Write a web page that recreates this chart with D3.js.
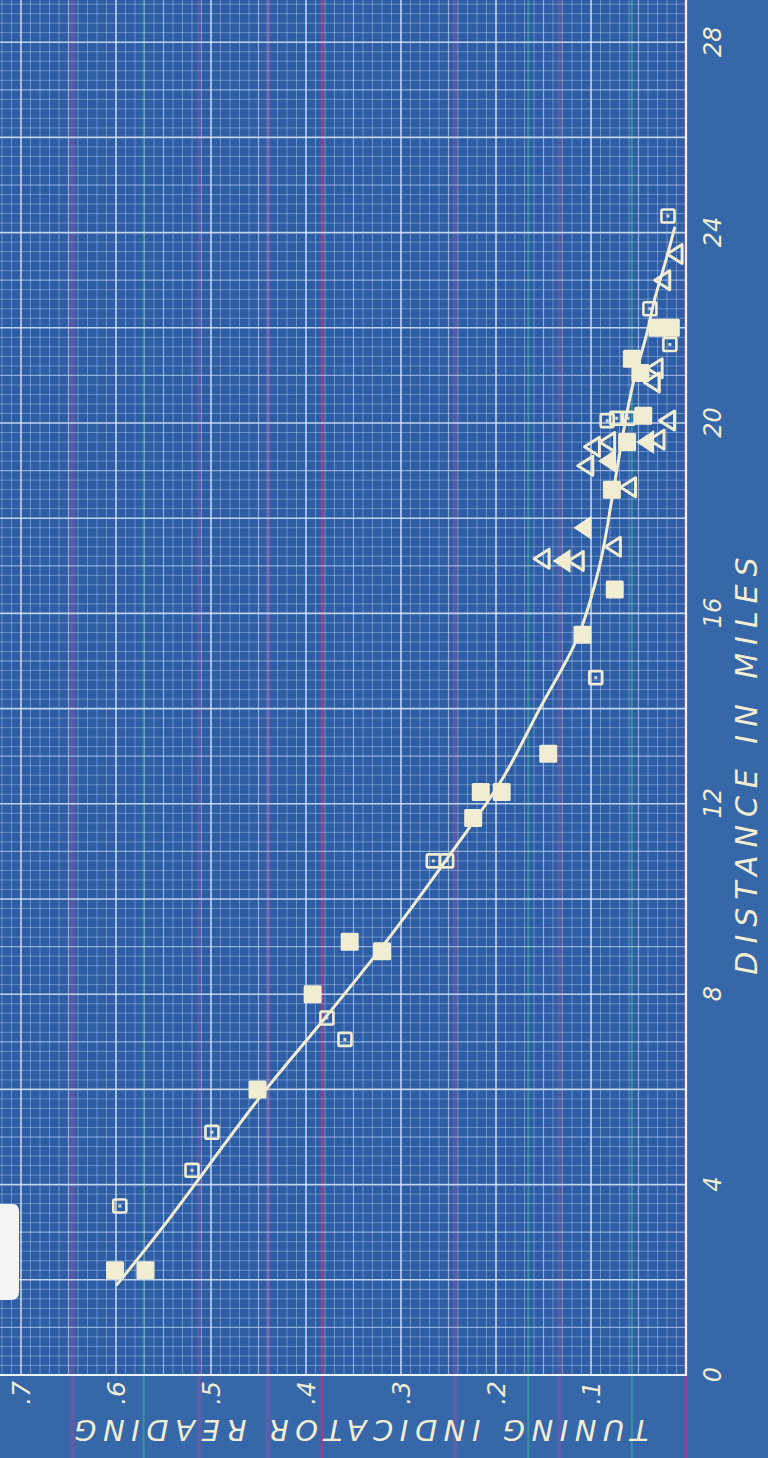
<!DOCTYPE html>
<html>
<head>
<meta charset="utf-8">
<script src="https://cdn.jsdelivr.net/npm/d3@7"></script>
<style>
  html, body { margin: 0; padding: 0; background: #3667a9; }
  svg { display: block; }
</style>
</head>
<body>
<svg id="chart" width="768" height="1458"></svg>
<script>
// distance (miles) / tuning indicator reading
const filledSqD = [2.2, 2.2, 6.0, 8.0, 9.1, 8.9, 11.7, 12.25, 12.25, 13.05, 15.55, 16.5, 18.6, 19.6, 20.15, 21.35, 21.05, 22.0, 22.0];
const filledSqR = [0.601, 0.569, 0.451, 0.393, 0.354, 0.320, 0.224, 0.216, 0.194, 0.145, 0.109, 0.075, 0.078, 0.062, 0.045, 0.057, 0.048, 0.030, 0.016];

const openSqD = [3.55, 4.3, 5.1, 7.05, 7.5, 10.8, 10.8, 14.65, 20.05, 20.1, 20.1, 22.4, 21.65, 24.35];
const openSqR = [0.596, 0.520, 0.499, 0.359, 0.378, 0.266, 0.252, 0.095, 0.083, 0.073, 0.061, 0.038, 0.017, 0.019];

const openTriD = [17.15, 17.1, 17.4, 18.65, 19.1, 19.5, 19.6, 19.65, 20.05, 21.15, 20.85, 23.0, 23.55];
const openTriR = [0.152, 0.116, 0.077, 0.061, 0.106, 0.099, 0.083, 0.031, 0.020, 0.033, 0.036, 0.025, 0.012];

const filledTriD = [17.1, 17.8, 19.6, 19.2];
const filledTriR = [0.131, 0.109, 0.043, 0.083];

const curveD = [1.9, 3.1, 5.9, 7.5, 9.2, 11.0, 12.5, 14.0, 15.5, 17.0, 18.4, 19.8, 20.8, 21.9, 22.6, 23.5, 24.1];
const curveR = [0.599, 0.551, 0.446, 0.380, 0.312, 0.246, 0.194, 0.154, 0.114, 0.091, 0.078, 0.066, 0.056, 0.041, 0.033, 0.020, 0.012];

const distTicks = [0, 4, 8, 12, 16, 20, 24, 28];
const readTicks = [0.1, 0.2, 0.3, 0.4, 0.5, 0.6, 0.7];
const readTickLabels = ['.1', '.2', '.3', '.4', '.5', '.6', '.7'];

// scanner colour streaks, as reading positions
const purpleStreaks = [0.646, 0.512, 0.44, 0.243, 0.133];
const magentaStreaks = [0.383, 0.0];
const greenStreaks = [0.571, 0.166, 0.057];

const W = 768;
const H = 1458;
const INK = '#f1edd3';
const FONT = '"DejaVu Sans", sans-serif';

const svg = d3.select('#chart');

// the sheet is drawn the usual way and turned a quarter turn
const g = svg.append('g').attr('transform', `translate(0,${H}) rotate(-90)`);

const x = d3.scaleLinear().domain([0, 28]).range([83, 83 + 28 * 47.6]);
const y = d3.scaleLinear().domain([0, 0.7]).range([686, 21]);

const dMax = 29.2;
const rMax = 0.74;

g.append('rect')
  .attr('x', x(0)).attr('y', y(rMax))
  .attr('width', x(dMax) - x(0)).attr('height', y(0) - y(rMax))
  .attr('fill', '#2d5da4');

// streaks run the full length of the sheet
const streak = (vals, color, width, op) => {
  g.append('g').selectAll('line').data(vals).join('line')
    .attr('x1', 0).attr('x2', H)
    .attr('y1', d => y(d)).attr('y2', d => y(d))
    .attr('stroke', color).attr('stroke-width', width).attr('opacity', op);
};
streak(purpleStreaks, '#7a5aa8', 5, 0.55);
streak(greenStreaks, '#3fb0a0', 2, 0.6);
streak(magentaStreaks, '#b03a8a', 3, 0.8);

// grid
const grid = g.append('g');
const gridStyle = i => (i % 10 === 0
  ? { c: '#e6f0ff', w: 1.6, o: 0.8 }
  : i % 5 === 0 ? { c: '#cfe0fa', w: 1.2, o: 0.62 } : { c: '#b4ccef', w: 1, o: 0.45 });

d3.range(0, Math.round(dMax / 0.2) + 1).forEach(i => {
  const s = gridStyle(i);
  grid.append('line')
    .attr('x1', x(i * 0.2)).attr('x2', x(i * 0.2))
    .attr('y1', y(rMax)).attr('y2', y(0))
    .attr('stroke', s.c).attr('stroke-width', s.w).attr('opacity', s.o);
});
d3.range(0, Math.round(rMax / 0.01) + 1).forEach(i => {
  const s = gridStyle(i);
  grid.append('line')
    .attr('x1', x(0)).attr('x2', x(dMax))
    .attr('y1', y(i * 0.01)).attr('y2', y(i * 0.01))
    .attr('stroke', s.c).attr('stroke-width', s.w).attr('opacity', s.o);
});
// border of the ruled area
g.append('path')
  .attr('d', `M${x(0)},${y(rMax)}V${y(0)}H${x(dMax)}`)
  .attr('fill', 'none').attr('stroke', '#eef4ff').attr('stroke-width', 2.2);

// fitted curve
const line = d3.line()
  .x(d => x(d[0])).y(d => y(d[1]))
  .curve(d3.curveCatmullRom.alpha(0.5));
g.append('path')
  .datum(curveD.map((d, i) => [d, curveR[i]]))
  .attr('d', line)
  .attr('fill', 'none').attr('stroke', INK).attr('stroke-width', 3)
  .attr('stroke-linecap', 'round');

// markers
const pts = (D, R) => D.map((d, i) => ({ d, r: R[i] }));
const marks = g.append('g');

marks.selectAll('rect.fsq').data(pts(filledSqD, filledSqR)).join('rect')
  .attr('class', 'fsq')
  .attr('x', d => x(d.d) - 9).attr('y', d => y(d.r) - 9)
  .attr('width', 18).attr('height', 18).attr('rx', 1.5)
  .attr('fill', INK);

const osq = marks.selectAll('g.osq').data(pts(openSqD, openSqR)).join('g')
  .attr('class', 'osq')
  .attr('transform', d => `translate(${x(d.d)},${y(d.r)})`);
osq.append('rect')
  .attr('x', -6.5).attr('y', -6.5).attr('width', 13).attr('height', 13).attr('rx', 1.5)
  .attr('fill', 'none').attr('stroke', INK).attr('stroke-width', 2.6);
osq.append('rect')
  .attr('x', -1.5).attr('y', -1.5).attr('width', 3).attr('height', 3)
  .attr('fill', INK).attr('opacity', 0.85);

marks.selectAll('path.otri').data(pts(openTriD, openTriR)).join('path')
  .attr('class', 'otri')
  .attr('transform', d => `translate(${x(d.d)},${y(d.r)})`)
  .attr('d', 'M0,-7.5L9.5,7.5L-9.5,7.5Z')
  .attr('fill', 'none').attr('stroke', INK).attr('stroke-width', 3)
  .attr('stroke-linejoin', 'round');
marks.selectAll('path.ftri').data(pts(filledTriD, filledTriR)).join('path')
  .attr('class', 'ftri')
  .attr('transform', d => `translate(${x(d.d)},${y(d.r)})`)
  .attr('d', 'M0,-9L12,9L-12,9Z')
  .attr('fill', INK);

// axes
g.append('g')
  .attr('transform', `translate(0,${y(0) + 17})`)
  .call(d3.axisBottom(x).tickValues(distTicks).tickSize(0).tickPadding(0))
  .call(a => a.select('.domain').remove())
  .call(a => a.selectAll('text')
    .attr('fill', INK).attr('font-family', FONT).attr('font-style', 'italic')
    .attr('font-size', 24).attr('dy', '0.75em'));

g.append('text')
  .attr('x', H - 762).attr('y', 746)
  .attr('text-anchor', 'middle').attr('dominant-baseline', 'central')
  .attr('fill', INK).attr('font-family', FONT).attr('font-style', 'italic')
  .attr('font-size', 30).attr('letter-spacing', 8)
  .text('DISTANCE IN MILES');

g.append('g')
  .attr('transform', `translate(${x(0) - 6},0)`)
  .call(d3.axisLeft(y).tickValues(readTicks).tickSize(0).tickPadding(0)
    .tickFormat((d, i) => readTickLabels[i]))
  .call(a => a.select('.domain').remove())
  .call(a => a.selectAll('text')
    .attr('fill', INK).attr('font-family', FONT).attr('font-style', 'italic')
    .attr('font-size', 25));

g.append('text')
  .attr('transform', `translate(${H - 1430},${358}) rotate(-90)`)
  .attr('text-anchor', 'middle').attr('dominant-baseline', 'central')
  .attr('fill', INK).attr('font-family', FONT).attr('font-style', 'italic')
  .attr('font-size', 29).attr('letter-spacing', 6.5)
  .text('TUNING INDICATOR READING');

// paper tab stuck on the left edge
svg.append('path')
  .attr('d', 'M0,1204H13Q19,1204 19,1212V1292Q19,1300 11,1300H0Z')
  .attr('fill', '#f4f4f2');
</script>
</body>
</html>
